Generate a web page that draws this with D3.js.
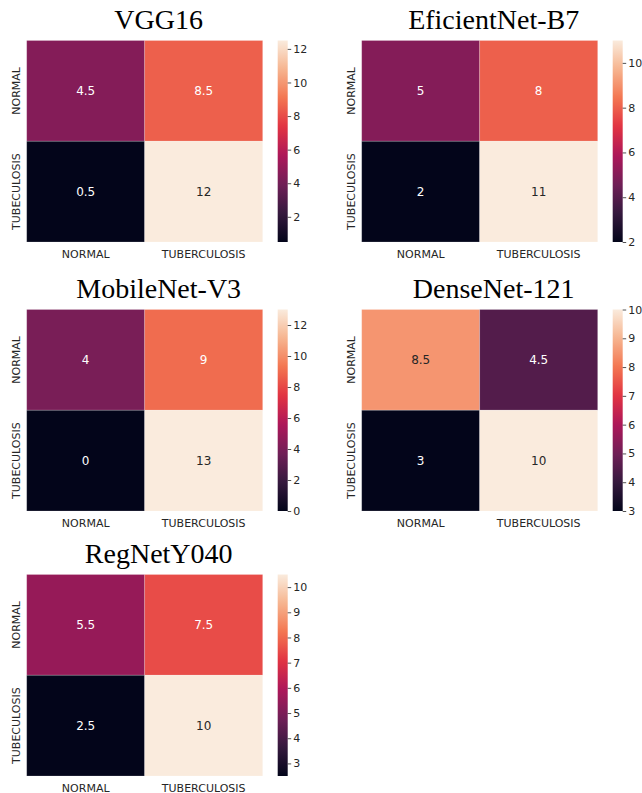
<!DOCTYPE html>
<html>
<head>
<meta charset="utf-8">
<script src="https://cdn.jsdelivr.net/npm/d3@7"></script>
<style>
  html, body { margin: 0; padding: 0; background: #fff; }
  svg { display: block; }
</style>
</head>
<body>
<svg id="chart" width="642" height="793"></svg>
<script>
// ---- data ----
const models = ["VGG16", "EficientNet-B7", "MobileNet-V3", "DenseNet-121", "RegNetY040"];
const xLabels = ["NORMAL", "TUBERCULOSIS"];
const yLabels = ["NORMAL", "TUBECULOSIS"];
const vgg16 = [[4.5, 8.5], [0.5, 12.5]];
const efficientNetB7 = [[5, 8], [2, 11]];
const mobileNetV3 = [[4, 9], [0, 13]];
const denseNet121 = [[8.5, 4.5], [3, 10]];
const regNetY040 = [[5.5, 7.5], [2.5, 10.5]];
const matrices = [vgg16, efficientNetB7, mobileNetV3, denseNet121, regNetY040];
const cbarTicks = [
  [2, 4, 6, 8, 10, 12],
  [2, 4, 6, 8, 10],
  [0, 2, 4, 6, 8, 10, 12],
  [3, 4, 5, 6, 7, 8, 9, 10],
  [3, 4, 5, 6, 7, 8, 9, 10]
];
// seaborn "rocket" colormap anchor colours
const rocketStops = ["#03051a", "#35193e", "#701f57", "#ad1759", "#e13342", "#f37651", "#f6b48f", "#faebdd"];

// ---- layout ----
const svg = d3.select("#chart");
const colLeft = [26.7, 361.7];
const rowTop = [40.5, 309.5, 574.5];
const hmW = 236, hmH = 201.5;
const cbGap = 251, cbW = 10;

const rocket = d3.scaleLinear()
  .domain(rocketStops.map((_, i) => i / (rocketStops.length - 1)))
  .range(rocketStops)
  .interpolate(d3.interpolateRgb);

function fmt2g(v) {
  if (Math.abs(v) >= 10) {
    let r = Math.round(v);
    if (Math.abs(v - Math.trunc(v)) === 0.5) {
      const f = Math.floor(v);
      r = (f % 2 === 0) ? f : f + 1;
    }
    return String(r);
  }
  return String(+v.toPrecision(2));
}
function luminance(c) {
  const rgb = d3.rgb(c);
  const lin = x => { x /= 255; return x <= 0.03928 ? x / 12.92 : Math.pow((x + 0.055) / 1.055, 2.4); };
  return 0.2126 * lin(rgb.r) + 0.7152 * lin(rgb.g) + 0.0722 * lin(rgb.b);
}

const defs = svg.append("defs");
const grad = defs.append("linearGradient").attr("id", "rocketGrad")
  .attr("x1", 0).attr("y1", 1).attr("x2", 0).attr("y2", 0);
d3.range(0, 1.0001, 0.02).forEach(t => {
  grad.append("stop").attr("offset", t).attr("stop-color", rocket(t));
});

const textColor = "#262626";

models.forEach((name, k) => {
  const left = colLeft[k % 2];
  const top = rowTop[Math.floor(k / 2)];
  const data = matrices[k];
  const flat = data.flat();
  const vmin = d3.min(flat), vmax = d3.max(flat);
  const color = v => rocket((v - vmin) / (vmax - vmin));

  const g = svg.append("g").attr("transform", `translate(${left},${top})`);
  const x = d3.scaleBand().domain(xLabels).range([0, hmW]);
  const y = d3.scaleBand().domain(yLabels).range([0, hmH]);

  const cells = [];
  data.forEach((row, i) => row.forEach((v, j) => cells.push({ r: yLabels[i], c: xLabels[j], v })));

  g.selectAll("rect.cell").data(cells).enter().append("rect")
    .attr("class", "cell")
    .attr("x", d => x(d.c)).attr("y", d => y(d.r))
    .attr("width", x.bandwidth()).attr("height", y.bandwidth())
    .attr("fill", d => color(d.v))
    .attr("stroke", "rgba(255,255,255,0.25)").attr("stroke-width", 0.8);

  g.selectAll("text.annot").data(cells).enter().append("text")
    .attr("class", "annot")
    .attr("x", d => x(d.c) + x.bandwidth() / 2)
    .attr("y", d => y(d.r) + y.bandwidth() / 2)
    .attr("dy", "0.36em")
    .attr("text-anchor", "middle")
    .attr("font-family", "DejaVu Sans")
    .attr("font-size", 12)
    .attr("fill", d => luminance(color(d.v)) > 0.408 ? textColor : "#ffffff")
    .text(d => fmt2g(d.v));

  // x tick labels
  g.selectAll("text.xl").data(xLabels).enter().append("text")
    .attr("class", "xl")
    .attr("x", d => x(d) + x.bandwidth() / 2)
    .attr("y", hmH + 15.5)
    .attr("text-anchor", "middle")
    .attr("font-family", "DejaVu Sans").attr("font-size", 11)
    .attr("fill", textColor)
    .text(d => d);

  // y tick labels (rotated)
  g.selectAll("text.yl").data(yLabels).enter().append("text")
    .attr("class", "yl")
    .attr("transform", d => `translate(-7,${y(d) + y.bandwidth() / 2}) rotate(-90)`)
    .attr("text-anchor", "middle")
    .attr("font-family", "DejaVu Sans").attr("font-size", 11)
    .attr("fill", textColor)
    .text(d => d);

  // title
  svg.append("text")
    .attr("x", left + hmW / 2 + 14)
    .attr("y", top - 11.5)
    .attr("text-anchor", "middle")
    .attr("font-family", "Liberation Serif")
    .attr("font-size", 28)
    .attr("fill", "#000")
    .text(name);

  // colorbar
  const cb = g.append("g").attr("transform", `translate(${cbGap},0)`);
  cb.append("rect").attr("width", cbW).attr("height", hmH).attr("fill", "url(#rocketGrad)");
  const cy = d3.scaleLinear().domain([vmin, vmax]).range([hmH, 0]);
  const ax = cb.append("g").attr("transform", `translate(${cbW},0)`)
    .call(d3.axisRight(cy).tickValues(cbarTicks[k]).tickSize(3.5).tickPadding(2).tickFormat(d3.format("d")));
  ax.select(".domain").remove();
  ax.selectAll(".tick line").attr("stroke", textColor).attr("stroke-width", 0.8);
  ax.selectAll(".tick text").attr("font-family", "DejaVu Sans").attr("font-size", 11).attr("fill", textColor);
});
</script>
</body>
</html>
